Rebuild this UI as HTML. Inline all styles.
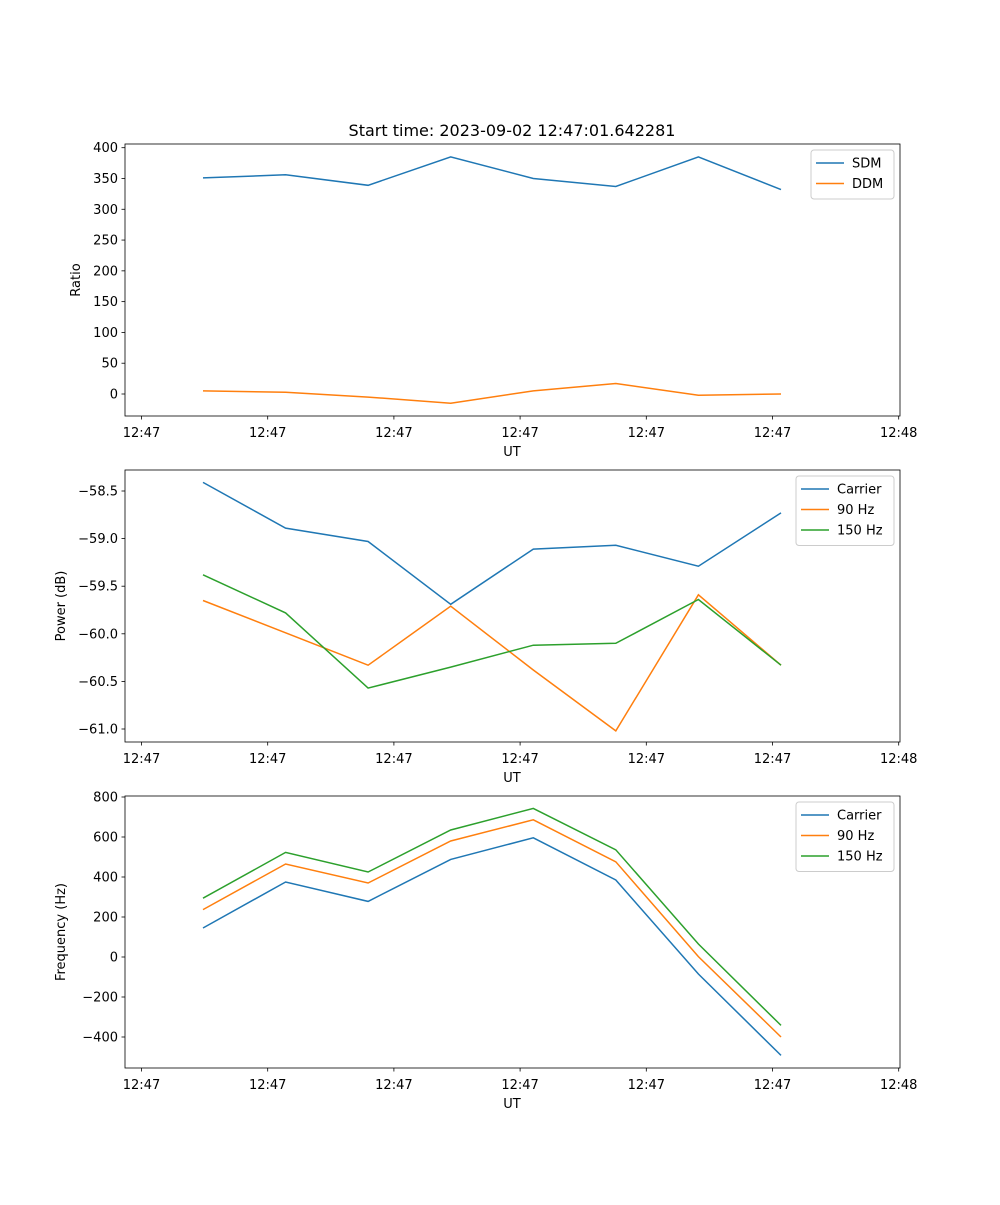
<!DOCTYPE html>
<html><head><meta charset="utf-8"><style>
body{margin:0;background:#fff;}
svg text{font-family:"DejaVu Sans","Liberation Sans",sans-serif;font-size:13px;fill:#000;}
</style></head><body>
<svg id="chart" width="1000" height="1200" xmlns="http://www.w3.org/2000/svg">
<text x="512" y="136" text-anchor="middle" style="font-size:16px">Start time: 2023-09-02 12:47:01.642281</text>
</svg>
<script>
const xTickLabels = ["12:47","12:47","12:47","12:47","12:47","12:47","12:48"];
const sdm = [351,356,339,385,350,337,385,332];
const ddm = [5,3,-5,-15,5,17,-2,0];
const pCarrier = [-58.41,-58.89,-59.03,-59.69,-59.11,-59.07,-59.29,-58.73];
const p90 = [-59.65,-59.99,-60.33,-59.71,-60.38,-61.02,-59.59,-60.33];
const p150 = [-59.38,-59.78,-60.57,-60.35,-60.12,-60.10,-59.64,-60.33];
const fCarrier = [145,375,278,488,596,385,-85,-492];
const f90 = [237,465,370,580,686,476,2,-400];
const f150 = [294,523,425,635,743,536,65,-342];
const ratioTicks = [0,50,100,150,200,250,300,350,400];
const powerTicks = [-61.0,-60.5,-60.0,-59.5,-59.0,-58.5];
const freqTicks = [-400,-200,0,200,400,600,800];

const svg = document.getElementById('chart');
const NS = 'http://www.w3.org/2000/svg';
const C = ['#1f77b4','#ff7f0e','#2ca02c'];
function mk(tag, attrs){const e=document.createElementNS(NS,tag);for(const k in attrs)e.setAttribute(k,attrs[k]);svg.appendChild(e);return e;}
const X0=125,X1=900;
const xd = i => 203 + i*82.57;
const xTickPos = i => 141.5 + i*126.2;

function panel(id, top, yMin, yMax, yv0, yv1, ticks, fmt, ylabel, series, names){
  const bottom = top+272;
  const ys = v => yMin + (v - yv0)*(yMax - yMin)/(yv1 - yv0);
  series.forEach((s,k)=>{
    const p = mk('polyline',{points:s.map((v,i)=>xd(i).toFixed(1)+','+ys(v).toFixed(1)).join(' '),fill:'none',stroke:C[k],'stroke-width':1.5});
    
    
  });
  const fr = mk('rect',{x:X0,y:top,width:X1-X0,height:272,fill:'none',stroke:'#000','stroke-width':0.8});
  
  
  ticks.forEach(t=>{
    const y=ys(t);
    mk('line',{x1:X0-3.5,x2:X0,y1:y,y2:y,stroke:'#000','stroke-width':0.8});
    const tx = mk('text',{x:X0-7,y:y+4.5,'text-anchor':'end'});
    tx.textContent = fmt(t);
    
    
  });
  xTickLabels.forEach((l,i)=>{
    const x=xTickPos(i);
    mk('line',{x1:x,x2:x,y1:bottom,y2:bottom+3.5,stroke:'#000','stroke-width':0.8});
    const tx = mk('text',{x:x,y:bottom+21,'text-anchor':'middle'});
    tx.textContent = l;
    
    
  });
  const xl = mk('text',{x:512,y:bottom+40,'text-anchor':'middle'});
  xl.textContent='UT';
  
  
  const cy = top+136;
  const lx = ylabel==='Ratio'?80:65;
  const yl = mk('text',{x:lx,y:cy,'text-anchor':'middle',transform:'rotate(-90 '+lx+' '+cy+')'});
  yl.textContent=ylabel;
  
  
  const w = names.length===2?83:98, h = 8+names.length*20.5;
  const lxp = X1-6-w, lyp = top+6;
  const lg = mk('rect',{x:lxp,y:lyp,width:w,height:h,fill:'#fff','fill-opacity':0.8,stroke:'#ccc',rx:3});
  
  
  names.forEach((n,k)=>{
    const yy = lyp+13+k*20.5;
    mk('line',{x1:lxp+5,x2:lxp+33,y1:yy,y2:yy,stroke:C[k],'stroke-width':1.5});
    const t = mk('text',{x:lxp+41,y:yy+4.5});
    t.textContent=n;
    
    
  });
}
panel('ratio',144,394,147.7,0,400,ratioTicks,v=>String(v),'Ratio',[sdm,ddm],['SDM','DDM']);
panel('power',470,729,491,-61.0,-58.5,powerTicks,v=>'\u2212'+Math.abs(v).toFixed(1),'Power (dB)',[pCarrier,p90,p150],['Carrier','90 Hz','150 Hz']);
panel('freq',796,1037,797,-400,800,freqTicks,v=>(v<0?'\u2212':'')+Math.abs(v),'Frequency (Hz)',[fCarrier,f90,f150],['Carrier','90 Hz','150 Hz']);
</script>
</body></html>
